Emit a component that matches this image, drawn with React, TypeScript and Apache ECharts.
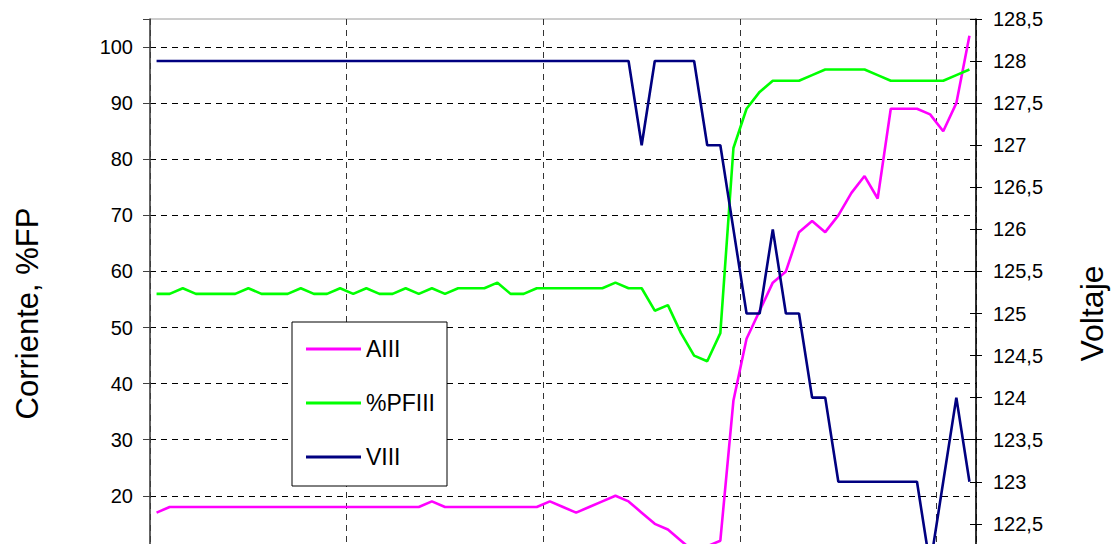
import React, { useEffect, useRef } from "react";
import * as echarts from "echarts";

const categories = [
  "1","2","3","4","5","6","7","8","9","10","11","12","13","14","15","16","17","18","19","20","21",
  "22","23","24","25","26","27","28","29","30","31","32","33","34","35","36","37","38","39","40","41","42",
  "43","44","45","46","47","48","49","50","51","52","53","54","55","56","57","58","59","60","61","62","63",
];

const aiii = [
  17, 18, 18, 18, 18, 18, 18, 18, 18, 18, 18, 18, 18, 18, 18,
  18, 18, 18, 18, 18, 18, 19, 18, 18, 18, 18, 18, 18, 18, 18,
  19, 18, 17, 18, 19, 20, 19, 17, 15, 14, 12, 10, 11, 12, 37,
  48, 53, 58, 60, 67, 69, 67, 70, 74, 77, 73, 89, 89, 89, 88, 85, 90, 102,
];

const pfiii = [
  56, 56, 57, 56, 56, 56, 56, 57, 56, 56, 56, 57, 56, 56, 57,
  56, 57, 56, 56, 57, 56, 57, 56, 57, 57, 57, 58, 56, 56, 57,
  57, 57, 57, 57, 57, 58, 57, 57, 53, 54, 49, 45, 44, 49, 82,
  89, 92, 94, 94, 94, 95, 96, 96, 96, 96, 95, 94, 94, 94, 94, 94, 95, 96,
];

const viii = [
  128, 128, 128, 128, 128, 128, 128, 128, 128, 128, 128, 128, 128, 128, 128,
  128, 128, 128, 128, 128, 128, 128, 128, 128, 128, 128, 128, 128, 128, 128,
  128, 128, 128, 128, 128, 128, 128, 127, 128, 128, 128, 128, 127, 127, 126,
  125, 125, 126, 125, 125, 124, 124, 123, 123, 123, 123, 123, 123, 123, 122, 123, 124, 123,
];

const leftName = "Corriente, %FP";
const rightName = "Voltaje";
const FONT = "'Liberation Sans', Arial, sans-serif";

export default function App() {
  const ref = useRef<HTMLDivElement>(null);

  useEffect(() => {
    if (!ref.current) return;
    const chart = echarts.init(ref.current, undefined, { renderer: "svg" });
    const lineSeries = (name: string, data: number[], color: string, yAxisIndex: number) => ({
      name,
      type: "line",
      data,
      yAxisIndex,
      showSymbol: false,
      symbol: "none",
      lineStyle: { color, width: 2.6 },
      itemStyle: { color },
      emphasis: { disabled: true },
    });
    chart.setOption({
      animation: false,
      textStyle: { fontFamily: FONT },
      grid: {
        left: 150,
        right: 141,
        top: 19,
        bottom: 52,
        show: true,
        borderColor: "#9a9a9a",
        borderWidth: 1,
        outerBoundsMode: "none",
      },
      legend: {
        orient: "vertical",
        left: 292,
        top: 322,
        padding: [14, 12, 16, 14],
        itemGap: 28,
        itemWidth: 55,
        itemHeight: 3,
        icon: "rect",
        backgroundColor: "#fff",
        borderColor: "#000",
        borderWidth: 1,
        borderRadius: 0,
        textStyle: { fontSize: 23, lineHeight: 26, color: "#000", fontFamily: FONT, padding: [0, 0, 0, 0] },
        data: ["AIII", "%PFIII", "VIII"],
      },
      xAxis: {
        type: "category",
        data: categories,
        boundaryGap: true,
        axisLine: { show: true, lineStyle: { color: "#404040" } },
        axisTick: { show: false },
        axisLabel: { show: false },
        splitLine: {
          show: true,
          interval: 14,
          lineStyle: { color: "#333", type: [6, 5], width: 1 },
        },
      },
      yAxis: [
        {
          type: "value",
          min: 0,
          max: 105,
          interval: 10,
          position: "left",
          name: leftName,
          nameLocation: "middle",
          nameGap: 107,
          nameMoveOverlap: false,
          nameTextStyle: { fontSize: 31, color: "#000", fontFamily: FONT },
          axisLine: { show: true, lineStyle: { color: "#404040", width: 1.5 } },
          axisTick: { show: true, inside: false, length: 7, lineStyle: { color: "#404040" } },
          axisLabel: {
            fontSize: 20,
            color: "#000",
            margin: 17,
            fontFamily: FONT,
            formatter: (v: number) => (v > 100 || v < 20 ? "" : String(v)),
          },
          splitLine: {
            show: true,
            showMaxLine: false,
            lineStyle: { color: "#000", type: [6, 5], width: 1 },
          },
        },
        {
          type: "value",
          min: 121.5,
          max: 128.5,
          interval: 0.5,
          position: "right",
          name: rightName,
          nameLocation: "middle",
          nameGap: 100,
          nameMoveOverlap: false,
          nameTextStyle: { fontSize: 32, color: "#000", fontFamily: FONT },
          axisLine: { show: true, lineStyle: { color: "#000", width: 1.5 } },
          axisTick: { show: true, inside: false, length: 6, lineStyle: { color: "#000" } },
          axisLabel: {
            fontSize: 20,
            color: "#000",
            margin: 17,
            fontFamily: FONT,
            formatter: (v: number) => (v < 122.5 ? "" : String(v).replace(".", ",")),
          },
          splitLine: { show: false },
        },
        {
          type: "value",
          min: 121.5,
          max: 128.5,
          interval: 0.5,
          position: "right",
          axisLine: { show: false },
          axisTick: { show: true, inside: true, length: 6, lineStyle: { color: "#000" } },
          axisLabel: { show: false },
          splitLine: { show: false },
        },
      ],
      series: [
        lineSeries("AIII", aiii, "#ff00ff", 0),
        lineSeries("%PFIII", pfiii, "#00ff00", 0),
        lineSeries("VIII", viii, "#000080", 1),
      ],
    });
    return () => chart.dispose();
  }, []);

  return (
    <div
      style={{
        position: "absolute",
        left: 0,
        top: 0,
        width: 1117,
        height: 544,
        overflow: "hidden",
        background: "#fff",
      }}
    >
      <div ref={ref} style={{ width: 1117, height: 660 }} />
    </div>
  );
}
